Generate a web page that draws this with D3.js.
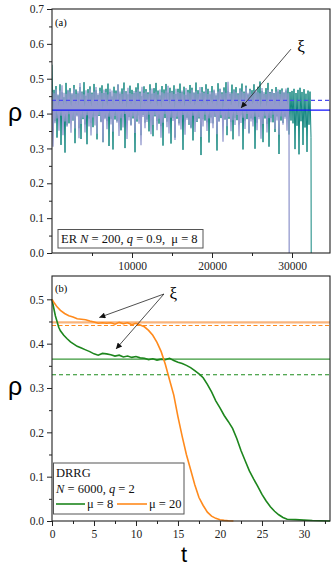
<!DOCTYPE html>
<html>
<head>
<meta charset="utf-8">
<script src="https://cdn.jsdelivr.net/npm/d3@7"></script>
<style>
  body { margin: 0; background: #fff; }
  svg { display: block; }
</style>
</head>
<body>
<div id="chart-area"></div>
<script>
/*
*    panel (a): ER network, rho(t) for two runs, thresholds
*    panel (b): DRRG, rho(t) for mu = 8 and mu = 20
*/

// ---- panel (a) data, rho in units of 1e-3, one hi/lo pair every 250 steps
var erStep = 125;
var lavHi = [462,458,470,455,466,481,460,457,468,463, 459,472,456,464,488,461,455,467,460,470,
             457,463,476,458,465,459,469,462,455,471, 466,460,458,484,463,457,468,461,474,459,
             456,465,462,470,458,477,460,464,456,467, 472,459,463,455,469,461,458,466,480,460,
             463,457,471,462,459,466,455,473,461,458, 468,460,464,457,476,462,459,470,456,465,
             461,469,458,463,472,457,466,460,491,462, 458,467,461,455,470,463,459,475,460,466,
             457,464,469,461,458,473,462,456,468,460, 465,459,463,470,457,466,461,472,458];
var lavLo = [305,372,386,351,394,338,377,362,398,345, 381,357,392,329,370,388,346,395,363,337,
             389,366,342,396,375,318,384,355,391,369, 348,393,374,336,387,360,399,327,380,365,
             392,344,383,371,309,390,358,376,397,341, 367,395,352,385,331,374,398,361,343,388,
             379,324,391,366,354,396,339,382,370,357, 394,347,378,389,333,363,397,350,386,372,
             358,392,341,376,395,319,384,364,390,349, 381,367,396,335,373,388,356,399,342,377,
             363,391,352,384,328,370,394,346,387,375, 397,356,380,339,392,368,385,351,379];
var tealHi = [540,468,479,452,484,461,447,488,466,473, 455,482,469,458,476,463,490,451,470,478,
              460,485,467,453,474,481,459,471,486,462, 449,477,466,483,457,472,489,464,455,480,
              468,459,475,487,463,450,478,470,461,484, 457,473,488,466,452,479,469,485,460,474,
              465,481,456,471,486,462,477,453,468,482, 474,460,489,467,458,476,463,484,471,455,
              479,466,452,487,470,461,475,490,464,457, 483,469,476,458,472,486,463,480,455,471,
              467,484,461,477,492,465,457,473,488,462, 470,459,476,463,468,472,460,466,474,462,
              465,471,459,468,474,462,470,457,466,463];
var tealLo = [350,378,331,392,310,385,288,366,372,391, 380,315,395,358,327,384,369,312,386,374,
              361,394,326,393,377,318,388,379,307,385, 297,383,378,386,352,390,301,374,390,368,
              386,289,377,395,338,396,374,383,349,381, 335,392,379,371,364,308,387,377,393,314,
              388,331,385,372,390,296,379,388,368,360, 323,393,376,386,281,384,380,375,317,389,
              372,391,294,379,387,372,383,338,385,376, 326,388,381,369,397,297,380,384,345,386,
              383,299,374,390,378,318,386,371,305,387, 375,347,392,284,380,373,391,389,340,380,
              372,298,365,283,378,310,360,290,368,332];
var erDropT = [29650, 32400];          // where each run falls to 0 (lavender, teal)
var erLevels = [0.410, 0.438];         // xi solid, dashed

// ---- panel (b) data
var tGreen = [0,0.2,0.4,0.6,0.8,1.0,1.4,1.8,2.2,2.6,3.0,3.5,4.0,4.5,5.0,5.5,6.0,6.5,7.0,7.5,8.0,8.5,
              9.0,9.5,10,10.5,11,11.5,12,12.5,13,13.5,14,14.5,15,15.5,16,16.5,17,17.5,18,18.5,19,19.5,
              20,20.5,21,21.5,22,22.5,23,23.5,24,24.5,25,25.5,26,26.5,27,27.5,28,29,30,31,32,33.1];
var rhoGreen = [0.500,0.481,0.463,0.450,0.437,0.429,0.419,0.411,0.404,0.399,0.394,0.390,0.386,0.382,
                0.377,0.374,0.378,0.377,0.375,0.372,0.374,0.370,0.372,0.369,0.371,0.368,0.367,0.364,
                0.366,0.363,0.365,0.364,0.367,0.362,0.358,0.355,0.351,0.346,0.339,0.332,0.323,0.308,
                0.291,0.271,0.255,0.238,0.224,0.209,0.186,0.159,0.136,0.113,0.095,0.078,0.060,0.045,
                0.032,0.022,0.014,0.008,0.004,0.003,0.002,0.001,0.0005,0];
var tOrange = [0,0.3,0.6,1.0,1.5,2.0,2.5,3.0,3.5,4.0,4.5,5.0,5.5,6.0,6.5,7.0,7.5,8.0,8.5,9.0,9.5,10,
               10.5,11,11.5,12,12.5,13,13.5,14,14.5,15,15.5,16,16.5,17,17.5,18,18.5,19,19.5,20,20.5,21,21.6];
var rhoOrange = [0.500,0.491,0.483,0.475,0.468,0.463,0.460,0.456,0.455,0.454,0.451,0.449,0.446,0.447,
                 0.446,0.447,0.444,0.448,0.445,0.447,0.443,0.446,0.442,0.438,0.430,0.419,0.403,0.382,
                 0.353,0.318,0.284,0.235,0.191,0.150,0.116,0.082,0.053,0.035,0.020,0.011,0.006,0.003,
                 0.0015,0.0005,0];
var greenLevels = [0.365, 0.330];      // solid, dashed
var orangeLevels = [0.448, 0.441];

var W = 332, H = 569;
var serif = "'Liberation Serif', 'Times New Roman', serif";
var svg = d3.select("#chart-area").append("svg")
    .attr("width", W).attr("height", H);

var defs = svg.append("defs");
defs.append("marker")
    .attr("id", "arrow")
    .attr("viewBox", "0 0 10 10")
    .attr("refX", 10).attr("refY", 5)
    .attr("markerUnits", "userSpaceOnUse")
    .attr("markerWidth", 8).attr("markerHeight", 6)
    .attr("orient", "auto")
  .append("path")
    .attr("d", "M0,0 L10,5 L0,10 z")
    .attr("fill", "#111");

var pa = { left:52, right:330, top:9, bottom:253 };
var pb = { left:52, right:330, top:276, bottom:521 };

var xA = d3.scaleLinear().domain([0, 34750]).range([pa.left, pa.right]);
var yA = d3.scaleLinear().domain([0, 0.7]).range([pa.bottom, pa.top]);
var xB = d3.scaleLinear().domain([0, 33.1]).range([pb.left, pb.right]);
var yB = d3.scaleLinear().domain([0, 0.5526]).range([pb.bottom, pb.top]);

function styleAxis(g) {
    g.select(".domain").remove();
    g.selectAll(".tick line").attr("stroke", "#222");
    g.selectAll(".tick text")
        .style("font-family", serif).style("font-size", "11.5px").attr("fill", "#222");
}

function axes(p, x, y, xMajor, xMinor, xFmt, yMajor, yMinor) {
    svg.append("g").attr("transform", "translate(" + p.left + ",0)")
        .call(d3.axisLeft(y).tickValues(yMajor).tickFormat(d3.format(".1f")).tickSize(5).tickPadding(3))
        .call(styleAxis);
    svg.append("g").attr("transform", "translate(" + p.left + ",0)")
        .call(d3.axisLeft(y).tickValues(yMinor).tickFormat("").tickSize(3))
        .call(styleAxis);
    svg.append("g").attr("transform", "translate(0," + p.bottom + ")")
        .call(d3.axisBottom(x).tickValues(xMajor).tickFormat(xFmt).tickSize(5).tickPadding(4))
        .call(styleAxis);
    svg.append("g").attr("transform", "translate(0," + p.bottom + ")")
        .call(d3.axisBottom(x).tickValues(xMinor).tickFormat("").tickSize(3))
        .call(styleAxis);
    svg.append("rect")
        .attr("x", p.left).attr("y", p.top)
        .attr("width", p.right - p.left).attr("height", p.bottom - p.top)
        .attr("fill", "none").attr("stroke", "#222").attr("stroke-width", 1.1);
}

// ---------- panel (a)
defs.append("clipPath").attr("id", "clipA").append("rect")
    .attr("x", pa.left).attr("y", pa.top)
    .attr("width", pa.right - pa.left).attr("height", pa.bottom - pa.top);

function zigzag(hi, lo, dropT) {
    var pts = [];
    hi.forEach(function(h, i) {
        pts.push([2 * i * erStep, h / 1000]);
        pts.push([(2 * i + 1) * erStep, lo[i] / 1000]);
    });
    pts.push([dropT, 0]);
    return pts;
}
var lineA = d3.line().x(d => xA(d[0])).y(d => yA(d[1]));
var gA = svg.append("g").attr("clip-path", "url(#clipA)");

gA.append("path")
    .attr("d", lineA(zigzag(tealHi, tealLo, erDropT[1])))
    .attr("fill", "none").attr("stroke", "#13877f").attr("stroke-width", 1);
gA.append("path")
    .attr("d", lineA(zigzag(lavHi, lavLo, erDropT[0])))
    .attr("fill", "none").attr("stroke", "#949ace").attr("stroke-width", 1.3);

gA.append("line")
    .attr("x1", pa.left).attr("x2", pa.right)
    .attr("y1", yA(erLevels[1])).attr("y2", yA(erLevels[1]))
    .attr("stroke", "#4b4bf0").attr("stroke-width", 1.2).attr("stroke-dasharray", "4,3");
gA.append("line")
    .attr("x1", pa.left).attr("x2", pa.right)
    .attr("y1", yA(erLevels[0])).attr("y2", yA(erLevels[0]))
    .attr("stroke", "#1010ff").attr("stroke-width", 1.2);

axes(pa, xA, yA, [10000, 20000, 30000], [5000, 15000, 25000],
     d3.format("d"), d3.range(0, 8).map(d => d / 10), d3.range(0, 7).map(d => d / 10 + 0.05));

svg.append("text").attr("x", 55).attr("y", 26)
    .style("font-family", serif).style("font-size", "10.5px").text("(a)");

svg.append("line")
    .attr("x1", xA(29875)).attr("y1", yA(0.585))
    .attr("x2", xA(23625)).attr("y2", yA(0.416))
    .attr("stroke", "#222").attr("stroke-width", 0.8).attr("marker-end", "url(#arrow)");
svg.append("text").attr("x", xA(31125)).attr("y", yA(0.593)).attr("dy", "0.35em")
    .attr("text-anchor", "middle")
    .style("font-family", serif).style("font-size", "17px").text("ξ");

svg.append("rect").attr("x", 58).attr("y", 229.5).attr("width", 145).attr("height", 18.5)
    .attr("fill", "#fff").attr("stroke", "#555").attr("stroke-width", 1);
var tA = svg.append("text").attr("x", 61).attr("y", 243)
    .style("font-family", serif).style("font-size", "12.5px").attr("fill", "#111");
tA.append("tspan").text("ER ");
tA.append("tspan").style("font-style", "italic").text("N");
tA.append("tspan").text(" = 200, ");
tA.append("tspan").style("font-style", "italic").text("q");
tA.append("tspan").text(" = 0.9,  μ = 8").attr("xml:space", "preserve");

svg.append("text").attr("x", 15).attr("y", yA(0.40)).attr("dy", "0.3em")
    .attr("text-anchor", "middle")
    .style("font-family", "Liberation Sans").style("font-size", "25px").text("ρ");

// ---------- panel (b)
var lineB = d3.line().x(d => xB(d[0])).y(d => yB(d[1]));

function hline(v, color, width, dash) {
    svg.append("line")
        .attr("x1", pb.left).attr("x2", pb.right)
        .attr("y1", yB(v)).attr("y2", yB(v))
        .attr("stroke", color).attr("stroke-width", width)
        .attr("stroke-dasharray", dash);
}
hline(orangeLevels[0], "#f9b47c", 2.4, null);
hline(orangeLevels[1], "#ff8a1c", 1.1, "4,2.5");
hline(greenLevels[0], "#3a983a", 1.1, null);
hline(greenLevels[1], "#1c8c1c", 1.1, "4,3");

svg.append("path")
    .attr("d", lineB(tGreen.map((t, i) => [t, rhoGreen[i]])))
    .attr("fill", "none").attr("stroke", "#1d861d").attr("stroke-width", 1.6);
svg.append("path")
    .attr("d", lineB(tOrange.map((t, i) => [t, rhoOrange[i]])))
    .attr("fill", "none").attr("stroke", "#ff8a1c").attr("stroke-width", 1.6);

axes(pb, xB, yB, d3.range(0, 35, 5), d3.range(2.5, 33, 5),
     d3.format("d"), d3.range(0, 6).map(d => d / 10), d3.range(0, 5).map(d => d / 10 + 0.05));

svg.append("text").attr("x", 55).attr("y", 292)
    .style("font-family", serif).style("font-size", "10.5px").text("(b)");

[[5.63, 0.459], [7.62, 0.388]].forEach(function(e) {
    svg.append("line")
        .attr("x1", xB(13.33)).attr("y1", yB(0.512))
        .attr("x2", xB(e[0])).attr("y2", yB(e[1]))
        .attr("stroke", "#222").attr("stroke-width", 0.8).attr("marker-end", "url(#arrow)");
});
svg.append("text").attr("x", xB(14.45)).attr("y", yB(0.514)).attr("dy", "0.35em")
    .attr("text-anchor", "middle")
    .style("font-family", serif).style("font-size", "17px").text("ξ");

// legend
svg.append("rect").attr("x", 53.5).attr("y", 463).attr("width", 130.5).attr("height", 51)
    .attr("fill", "#fff").attr("stroke", "#555").attr("stroke-width", 1);
var legFont = function(s) { return s.style("font-family", serif).style("font-size", "12.5px").attr("fill", "#111"); };
legFont(svg.append("text").attr("x", 56).attr("y", 477)).text("DRRG");
var tB = legFont(svg.append("text").attr("x", 56).attr("y", 493));
tB.append("tspan").style("font-style", "italic").text("N");
tB.append("tspan").text(" = 6000, ");
tB.append("tspan").style("font-style", "italic").text("q");
tB.append("tspan").text(" = 2");
svg.append("line").attr("x1", 56).attr("x2", 85).attr("y1", 504).attr("y2", 504)
    .attr("stroke", "#1d861d").attr("stroke-width", 1.6);
legFont(svg.append("text").attr("x", 87).attr("y", 508)).text("μ = 8");
svg.append("line").attr("x1", 117).attr("x2", 147).attr("y1", 504).attr("y2", 504)
    .attr("stroke", "#ff8a1c").attr("stroke-width", 1.6);
legFont(svg.append("text").attr("x", 149).attr("y", 508)).text("μ = 20");

svg.append("text").attr("x", 15).attr("y", yB(0.30)).attr("dy", "0.3em")
    .attr("text-anchor", "middle")
    .style("font-family", "Liberation Sans").style("font-size", "25px").text("ρ");
svg.append("text").attr("x", 184).attr("y", 562)
    .attr("text-anchor", "middle")
    .style("font-family", "Liberation Sans").style("font-size", "22px").text("t");
</script>
</body>
</html>
